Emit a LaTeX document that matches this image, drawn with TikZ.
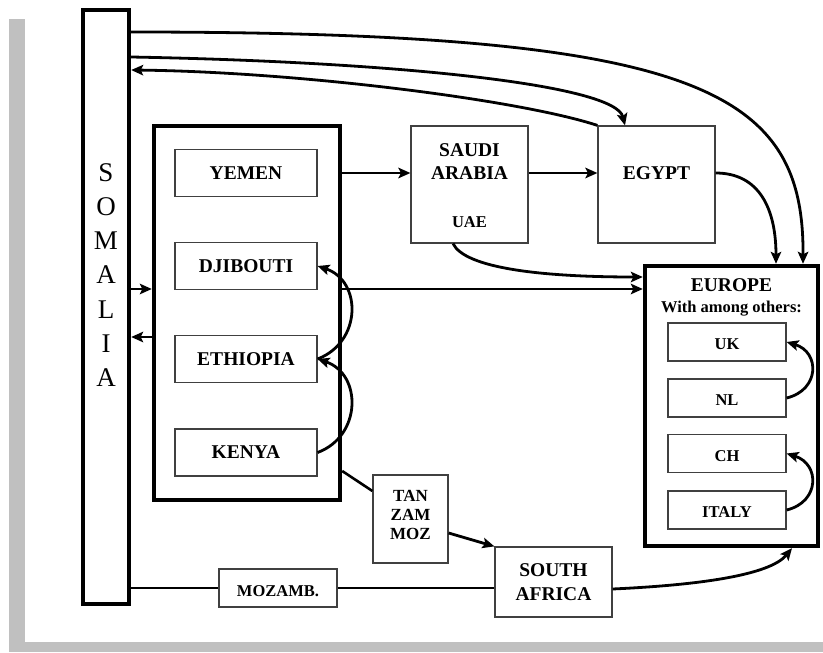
\documentclass[tikz,border=0pt]{standalone}
\usepackage{fontspec}
\setmainfont{Liberation Serif}
\usetikzlibrary{arrows.meta}
\definecolor{framegray}{HTML}{C0C0C0}
\begin{document}
\begin{tikzpicture}[x=1pt,y=-1pt,
  conn/.style={line width=2.8pt, -{Stealth[length=12pt,width=10.5pt,inset=2.5pt]}},
  plainline/.style={line width=2.6pt},
  heavybox/.style={draw, line width=4.4pt, inner sep=0pt},
  cbox/.style={draw=black!75, line width=1.2pt, fill=white, inner sep=0pt,
    font=\bfseries\fontsize{19.5}{23.3}\selectfont},
  oneline/.style={text height=12.9pt, text depth=0pt},
  smalltext/.style={font=\bfseries\fontsize{16.5}{19}\selectfont, text height=15.6pt, text depth=0pt},
  lbl/.style={inner sep=0pt, font=\bfseries\fontsize{19.5}{23.3}\selectfont},
  letter/.style={inner sep=0pt, font=\fontsize{27}{34}\selectfont, text height=17.9pt, text depth=0pt}
]
\useasboundingbox (0,0) rectangle (823,653);

% shadow frame
\fill[framegray] (9,19) rectangle (25,652);
\fill[framegray] (9,642) rectangle (823,652);

% large framing boxes
\node[heavybox, minimum width=46pt, minimum height=594pt] (soma) at (106,307) {};
\node[heavybox, minimum width=186pt, minimum height=374pt] (grp) at (247,313) {};
\node[heavybox, minimum width=173pt, minimum height=280pt] (euro) at (731.5,406) {};

% SOMALIA written vertically
\foreach \l/\y [count=\i] in {S/172.5,O/206.65,M/240.8,A/274.95,L/309.1,I/343.25,A/377.4}
  \node[letter] (soml\i) at (106,\y) {\l};

% Horn of Africa group
\node[cbox, oneline, minimum width=142pt, minimum height=47pt] (yemen)    at (246,173)   {YEMEN};
\node[cbox, oneline, minimum width=142pt, minimum height=47pt] (djibouti) at (246,266)   {DJIBOUTI};
\node[cbox, oneline, minimum width=142pt, minimum height=47pt] (ethiopia) at (246,359)   {ETHIOPIA};
\node[cbox, oneline, minimum width=142pt, minimum height=47pt] (kenya)    at (246,452.5) {KENYA};

% Middle East
\node[cbox, minimum width=117pt, minimum height=117pt] (saudi) at (469.5,184.5) {};
\node[lbl, align=center] (saudilbl) at (469.5,161.3) {SAUDI\\ARABIA};
\node[lbl, font=\bfseries\fontsize{16.5}{19}\selectfont, text height=10.9pt, text depth=0pt] (uae) at (469.5,221.7) {UAE};
\node[cbox, minimum width=117pt, minimum height=117pt] (egypt) at (656.5,184.5) {};
\node[lbl, oneline] (egyptlbl) at (656.5,172.8) {EGYPT};

% Europe
\node[lbl, oneline] (eurolbl) at (731.5,285.5) {EUROPE};
\node[lbl, font=\bfseries\fontsize{16.5}{19}\selectfont, text height=10.9pt, text depth=0pt] (eurosub) at (731.5,307.2) {With among others:};
\node[cbox, smalltext, minimum width=118pt, minimum height=38pt] (uk)    at (727,342)   {UK};
\node[cbox, smalltext, minimum width=118pt, minimum height=38pt] (nl)    at (727,398)   {NL};
\node[cbox, smalltext, minimum width=118pt, minimum height=38pt] (ch)    at (727,453.5) {CH};
\node[cbox, smalltext, minimum width=118pt, minimum height=38pt] (italy) at (727,510)   {ITALY};

% southern route
\node[cbox, minimum width=75pt, minimum height=88pt] (tzm) at (410.5,519) {};
\node[lbl, align=center, font=\bfseries\fontsize{17}{19}\selectfont] (tzmlbl) at (410.5,514.7) {TAN\\ZAM\\MOZ};
\node[cbox, align=center, minimum width=117pt, minimum height=70pt] (sa) at (553.5,582) {SOUTH\\AFRICA};
\node[cbox, font=\bfseries\fontsize{16.5}{19}\selectfont, text height=16.9pt, text depth=0pt,
      minimum width=118pt, minimum height=38pt] (moz) at (278,588) {MOZAMB.};

% routes over the top
\draw[conn] (soma.east |- 0,32) .. controls (700,32) and (804,90) .. (euro.north -| 803,0);
\draw[conn] (soma.east |- 0,57) .. controls (400,62) and (615,85) .. (egypt.north -| 625,0);
\draw[conn] (egypt.north west) .. controls (520,100) and (300,72) .. (soma.east |- 0,70);

% Middle East routes
\draw[conn] (yemen.east -| grp.east) -- (saudi.west |- yemen.east);
\draw[conn] (saudi.east |- 0,173) -- (egypt.west |- 0,173);
\draw[conn] (egypt.east |- 0,173) .. controls (760,173) and (776,210) .. (euro.north -| 776,0);
\draw[conn] (saudi.south -| 453,0) .. controls (465,268) and (540,277) .. (euro.west |- 0,277);

% group connections
\draw[conn] (grp.east |- 0,289) -- (euro.west |- 0,289);
\draw[conn] (soma.east |- 0,289) -- (grp.west |- 0,289);
\draw[conn] (grp.west |- 0,337) -- (soma.east |- 0,337);
\draw[conn] (ethiopia.east) .. controls (362,342) and (362,281) .. (djibouti.east);
\draw[conn] (kenya.east) .. controls (362,436) and (362,374) .. (ethiopia.east);

% southern routes
\draw[plainline] (grp.east |- 0,471) -- (tzm.west |- 0,491);
\draw[conn] (tzm.east |- 0,533) -- (sa.north west);
\draw[line width=2.3pt] (soma.east |- moz.west) -- (moz.west);
\draw[line width=2.3pt] (moz.east) -- (sa.west |- moz.east);
\draw[conn] (sa.east |- 0,589) .. controls (700,585) and (770,575) .. (euro.south -| 792,0);

% within Europe
\draw[conn] (nl.east) .. controls (820,390) and (820,352) .. (uk.east);
\draw[conn] (italy.east) .. controls (820,502) and (820,464) .. (ch.east);
\end{tikzpicture}
\end{document}
